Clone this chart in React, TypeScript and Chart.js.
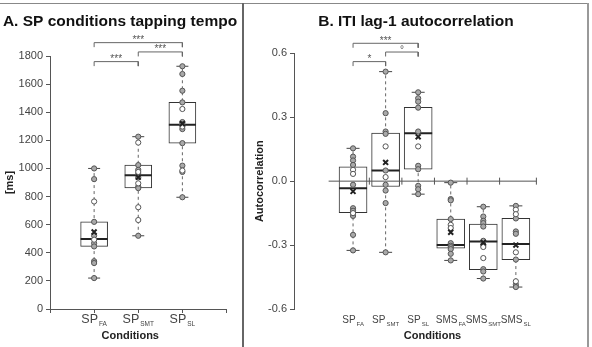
import React, { useEffect, useRef } from 'react';
import { Chart, registerables } from 'chart.js';

Chart.register(...registerables);

const FONT = '"Liberation Sans", Arial, sans-serif';

// ---------- Panel A: SP conditions tapping tempo ----------
const titleA = 'A. SP conditions tapping tempo';
const conditionsA = ['SP_FA', 'SP_SMT', 'SP_SL'];
const minA = [220, 521, 795];
const q1A = [445, 862, 1180];
const medianA = [498, 952, 1310];
const q3A = [620, 1024, 1470];
const maxA = [1000, 1226, 1727];
const meanA = [548, 938, 1318];
const filledA = [
  [1000, 924, 620, 522, 468, 445, 340, 327, 220],
  [1226, 1024, 990, 960, 937, 870, 860, 521],
  [1727, 1672, 1553, 1470, 1330, 1315, 1280, 1180, 1020, 975, 795],
];
const openA = [
  [765, 493],
  [1184, 975, 894, 724, 633],
  [1423, 1298, 985],
];
const bracketFromA = [1, 2, 1];
const bracketToA = [3, 3, 2];
const bracketTopA = [1895, 1829, 1760];
const bracketLabelA = ['***', '***', '***'];

// ---------- Panel B: ITI lag-1 autocorrelation ----------
const titleB = 'B. ITI lag-1 autocorrelation';
const conditionsB = ['SP_FA', 'SP_SMT', 'SP_SL', 'SMS_FA', 'SMS_SMT', 'SMS_SL'];
const minB = [-0.325, -0.334, -0.061, -0.372, -0.457, -0.497];
const q1B = [-0.148, -0.025, 0.056, -0.314, -0.416, -0.368];
const medianB = [-0.033, 0.05, 0.225, -0.3, -0.283, -0.295];
const q3B = [0.067, 0.226, 0.347, -0.178, -0.201, -0.174];
const maxB = [0.154, 0.514, 0.417, -0.007, -0.12, -0.116];
const meanB = [-0.048, 0.088, 0.208, -0.24, -0.288, -0.3];
const filledB = [
  [0.154, 0.115, 0.097, 0.076, -0.017, -0.127, -0.139, -0.163, -0.252, -0.325],
  [0.514, 0.319, 0.233, 0.222, 0.05, -0.017, -0.044, -0.103, -0.334],
  [0.417, 0.389, 0.373, 0.345, 0.233, 0.072, 0.056, -0.022, -0.038, -0.061],
  [-0.007, -0.084, -0.09, -0.178, -0.291, -0.303, -0.31, -0.319, -0.341, -0.372],
  [-0.12, -0.166, -0.186, -0.197, -0.213, -0.28, -0.413, -0.424, -0.457],
  [-0.116, -0.175, -0.236, -0.247, -0.368, -0.486, -0.497],
];
const openB = [
  [0.053, 0.034, -0.15],
  [0.163, 0.019],
  [0.163],
  [-0.205, -0.22],
  [-0.3, -0.309, -0.361],
  [-0.134, -0.155, -0.334, -0.47],
];
const bracketFromB = [1, 2, 1];
const bracketToB = [3, 3, 2];
const bracketTopB = [0.647, 0.606, 0.561];
const bracketLabelB = ['***', '°', '*'];

type Panel = {
  conditions: string[];
  min: number[];
  q1: number[];
  median: number[];
  q3: number[];
  max: number[];
  mean: number[];
  filled: number[][];
  open: number[][];
  bFrom: number[];
  bTo: number[];
  bTop: number[];
  bLabel: string[];
  bDrop: number;
};

const panelA: Panel = {
  conditions: conditionsA, min: minA, q1: q1A, median: medianA, q3: q3A, max: maxA, mean: meanA,
  filled: filledA, open: openA, bFrom: bracketFromA, bTo: bracketToA, bTop: bracketTopA, bLabel: bracketLabelA, bDrop: 32,
};
const panelB: Panel = {
  conditions: conditionsB, min: minB, q1: q1B, median: medianB, q3: q3B, max: maxB, mean: meanB,
  filled: filledB, open: openB, bFrom: bracketFromB, bTo: bracketToB, bTop: bracketTopB, bLabel: bracketLabelB, bDrop: 0.021,
};

function buildDatasets(p: Panel, boxWidth: number, capRadius: number) {
  const at = (i: number) => i + 1;
  const ds: any[] = [];
  p.conditions.forEach((_, i) =>
    ds.push({
      type: 'line',
      data: [{ x: at(i), y: p.min[i] }, { x: at(i), y: p.max[i] }],
      borderColor: '#666', borderWidth: 1, borderDash: [3, 3], pointRadius: 0, order: 10,
    })
  );
  ds.push({
    type: 'scatter',
    data: p.conditions.flatMap((_, i) => [{ x: at(i), y: p.min[i] }, { x: at(i), y: p.max[i] }]),
    pointStyle: 'line', pointRadius: capRadius, pointBorderColor: '#444', pointBorderWidth: 1, order: 9,
  });
  ds.push({
    type: 'bar',
    data: p.conditions.map((_, i) => ({ x: at(i), y: [p.q1[i], p.q3[i]] })),
    backgroundColor: '#ffffff', borderColor: '#333', borderWidth: 1, borderSkipped: false,
    barThickness: boxWidth, order: 8,
  });
  ds.push({
    type: 'scatter',
    data: p.conditions.map((_, i) => ({ x: at(i), y: p.median[i] })),
    pointStyle: 'line', pointRadius: boxWidth / 2, pointBorderColor: '#222', pointBorderWidth: 2, order: 6,
  });
  ds.push({
    type: 'scatter',
    data: p.filled.flatMap((vals, i) => vals.map((v) => ({ x: at(i), y: v }))),
    pointStyle: 'circle', pointRadius: 2.6, pointBackgroundColor: '#a9a9a9', pointBorderColor: '#555',
    pointBorderWidth: 1, order: 5,
  });
  ds.push({
    type: 'scatter',
    data: p.open.flatMap((vals, i) => vals.map((v) => ({ x: at(i), y: v }))),
    pointStyle: 'circle', pointRadius: 2.6, pointBackgroundColor: '#ffffff', pointBorderColor: '#555',
    pointBorderWidth: 1, order: 4,
  });
  ds.push({
    type: 'scatter',
    data: p.conditions.map((_, i) => ({ x: at(i), y: p.mean[i] })),
    pointStyle: 'crossRot', pointRadius: 3.5, pointBorderColor: '#222', pointBorderWidth: 2, order: 3,
  });
  p.bFrom.forEach((f, k) =>
    ds.push({
      type: 'line',
      data: [
        { x: f, y: p.bTop[k] - p.bDrop },
        { x: f, y: p.bTop[k] },
        { x: p.bTo[k], y: p.bTop[k] },
        { x: p.bTo[k], y: p.bTop[k] - p.bDrop },
      ],
      borderColor: '#666', borderWidth: 1, pointRadius: 0, clip: false, order: 2,
    })
  );
  return ds;
}

const panelTextPlugin = {
  id: 'panelText',
  afterDraw(chart: any, _args: any, opts: any) {
    const { ctx, chartArea } = chart;
    const xs = chart.scales.x;
    const ys = chart.scales.y;
    ctx.save();
    // Title
    ctx.font = `bold 15.5px ${FONT}`;
    ctx.fillStyle = '#111';
    ctx.textAlign = 'center';
    ctx.textBaseline = 'alphabetic';
    ctx.fillText(opts.title, chart.width / 2 + (opts.titleShift || 0), 26);
    // Category labels with subscripts
    const mainSize = opts.labelSize;
    const subSize = opts.subSize;
    (opts.conditions as string[]).forEach((c, i) => {
      const [main, sub] = c.split('_');
      const x = xs.getPixelForValue(i + 1);
      ctx.font = `${mainSize}px ${FONT}`;
      const mw = ctx.measureText(main).width;
      ctx.font = `${subSize}px ${FONT}`;
      const sw = ctx.measureText(sub).width;
      const left = x - (mw + 1 + sw) / 2;
      const base = chartArea.bottom + 14;
      ctx.textAlign = 'left';
      ctx.fillStyle = '#444';
      ctx.font = `${mainSize}px ${FONT}`;
      ctx.fillText(main, left, base);
      ctx.font = `${subSize}px ${FONT}`;
      ctx.fillText(sub, left + mw + 1, base + 3.4);
    });
    // X axis title
    ctx.font = `bold 11px ${FONT}`;
    ctx.fillStyle = '#222';
    ctx.textAlign = 'center';
    ctx.fillText(opts.xTitle, (chartArea.left + chartArea.right) / 2 + (opts.xTitleShift || 0), chartArea.bottom + 30);
    // Significance labels
    ctx.font = `10px ${FONT}`;
    ctx.fillStyle = '#555';
    (opts.bLabel as string[]).forEach((lab, k) => {
      const x = (xs.getPixelForValue(opts.bFrom[k]) + xs.getPixelForValue(opts.bTo[k])) / 2;
      const y = ys.getPixelForValue(opts.bTop[k]);
      ctx.fillText(lab, x, y + 0.5);
    });
    ctx.restore();
  },
};

function makeConfigA(): any {
  const xTicks = conditionsA.map((_, i) => i + 0.5).concat(conditionsA.length + 0.5);
  return {
    type: 'scatter',
    data: { datasets: buildDatasets(panelA, 27, 6) },
    plugins: [panelTextPlugin],
    options: {
      responsive: false,
      animation: false,
      events: [],
      layout: { padding: { top: 56, right: 14, bottom: 0, left: 0 } },
      plugins: {
        legend: { display: false },
        tooltip: { enabled: false },
        title: { display: false },
        panelText: {
          title: titleA, titleShift: -1, conditions: conditionsA, xTitle: 'Conditions', xTitleShift: -8,
          labelSize: 12.5, subSize: 6.5,
          bFrom: bracketFromA, bTo: bracketToA, bTop: bracketTopA, bLabel: bracketLabelA,
        },
      },
      scales: {
        x: {
          type: 'linear', min: 0.5, max: 3.5,
          ticks: { display: false },
          afterBuildTicks: (s: any) => { s.ticks = xTicks.map((v) => ({ value: v })); },
          afterFit: (s: any) => { s.height = 38; },
          grid: { display: true, drawOnChartArea: false, drawTicks: true, tickLength: 4, color: '#555' },
          border: { display: true, color: '#555', width: 1 },
        },
        y: {
          type: 'linear', min: 0, max: 1800,
          ticks: {
            stepSize: 200, color: '#444', font: { family: FONT, size: 11 }, padding: 3,
            callback: (v: number) => String(Math.round(v)),
          },
          afterFit: (s: any) => { s.width = 50; },
          grid: { drawOnChartArea: false, tickLength: 4, color: '#555' },
          border: { color: '#555', width: 1 },
          title: {
            display: true, text: '[ms]', color: '#222',
            font: { family: FONT, size: 11, weight: 'bold' }, padding: { top: 3.4, bottom: 0 },
          },
        },
      },
    },
  };
}

function makeConfigB(): any {
  const xMin = 0.25;
  const xMax = 6.63;
  const zeroTicks = conditionsB.slice(0, -1).map((_, i) => i + 1.5).concat(xMax);
  const datasets = buildDatasets(panelB, 28, 6.5);
  datasets.push({
    type: 'line',
    data: [{ x: xMin, y: 0 }, { x: xMax, y: 0 }],
    borderColor: '#555', borderWidth: 1, pointRadius: 0, order: 7,
  });
  datasets.push({
    type: 'scatter',
    data: zeroTicks.map((v) => ({ x: v, y: 0 })),
    pointStyle: 'line', pointRotation: 90, pointRadius: 3.5, pointBorderColor: '#555', pointBorderWidth: 1, order: 7,
  });
  return {
    type: 'scatter',
    data: { datasets },
    plugins: [panelTextPlugin],
    options: {
      responsive: false,
      animation: false,
      events: [],
      layout: { padding: { top: 53.3, right: 11, bottom: 0, left: 0 } },
      plugins: {
        legend: { display: false },
        tooltip: { enabled: false },
        title: { display: false },
        panelText: {
          title: titleB, titleShift: 0, conditions: conditionsB, xTitle: 'Conditions', xTitleShift: 0,
          labelSize: 10, subSize: 6,
          bFrom: bracketFromB, bTo: bracketToB, bTop: bracketTopB, bLabel: bracketLabelB,
        },
      },
      scales: {
        x: {
          type: 'linear', min: xMin, max: xMax,
          ticks: { display: false },
          afterFit: (s: any) => { s.height = 38; },
          grid: { display: false },
          border: { display: false },
        },
        y: {
          type: 'linear', min: -0.6, max: 0.6,
          ticks: {
            stepSize: 0.3, color: '#444', font: { family: FONT, size: 11 }, padding: 3,
            callback: (v: number) => (Math.abs(v) < 1e-9 ? '0.0' : Number(v).toFixed(1)),
          },
          afterFit: (s: any) => { s.width = 49; },
          grid: { drawOnChartArea: false, tickLength: 4, color: '#555' },
          border: { color: '#555', width: 1 },
          title: {
            display: true, text: 'Autocorrelation', color: '#222',
            font: { family: FONT, size: 11, weight: 'bold' }, padding: { top: 8.4, bottom: 0 },
          },
        },
      },
    },
  };
}

function ChartCanvas({ make, left, width, height }: { make: () => any; left: number; width: number; height: number }) {
  const ref = useRef<HTMLCanvasElement>(null);
  useEffect(() => {
    const chart = new Chart(ref.current as HTMLCanvasElement, make());
    return () => chart.destroy();
  }, []);
  return (
    <canvas
      ref={ref}
      width={width}
      height={height}
      style={{ position: 'absolute', left, top: 0, width, height }}
    />
  );
}

export default function App() {
  return (
    <div style={{ position: 'fixed', left: 0, top: 0, width: 592, height: 347, background: '#fff', overflow: 'hidden' }}>
      <ChartCanvas make={makeConfigA} left={0} width={242} height={347} />
      <ChartCanvas make={makeConfigB} left={245} width={342} height={347} />
      <div style={{ position: 'absolute', left: 0, top: 3, width: 589, height: 1, background: '#888' }} />
      <div style={{ position: 'absolute', left: 242, top: 3, width: 2, height: 344, background: '#666' }} />
      <div style={{ position: 'absolute', left: 587, top: 3, width: 2, height: 344, background: '#999' }} />
    </div>
  );
}
